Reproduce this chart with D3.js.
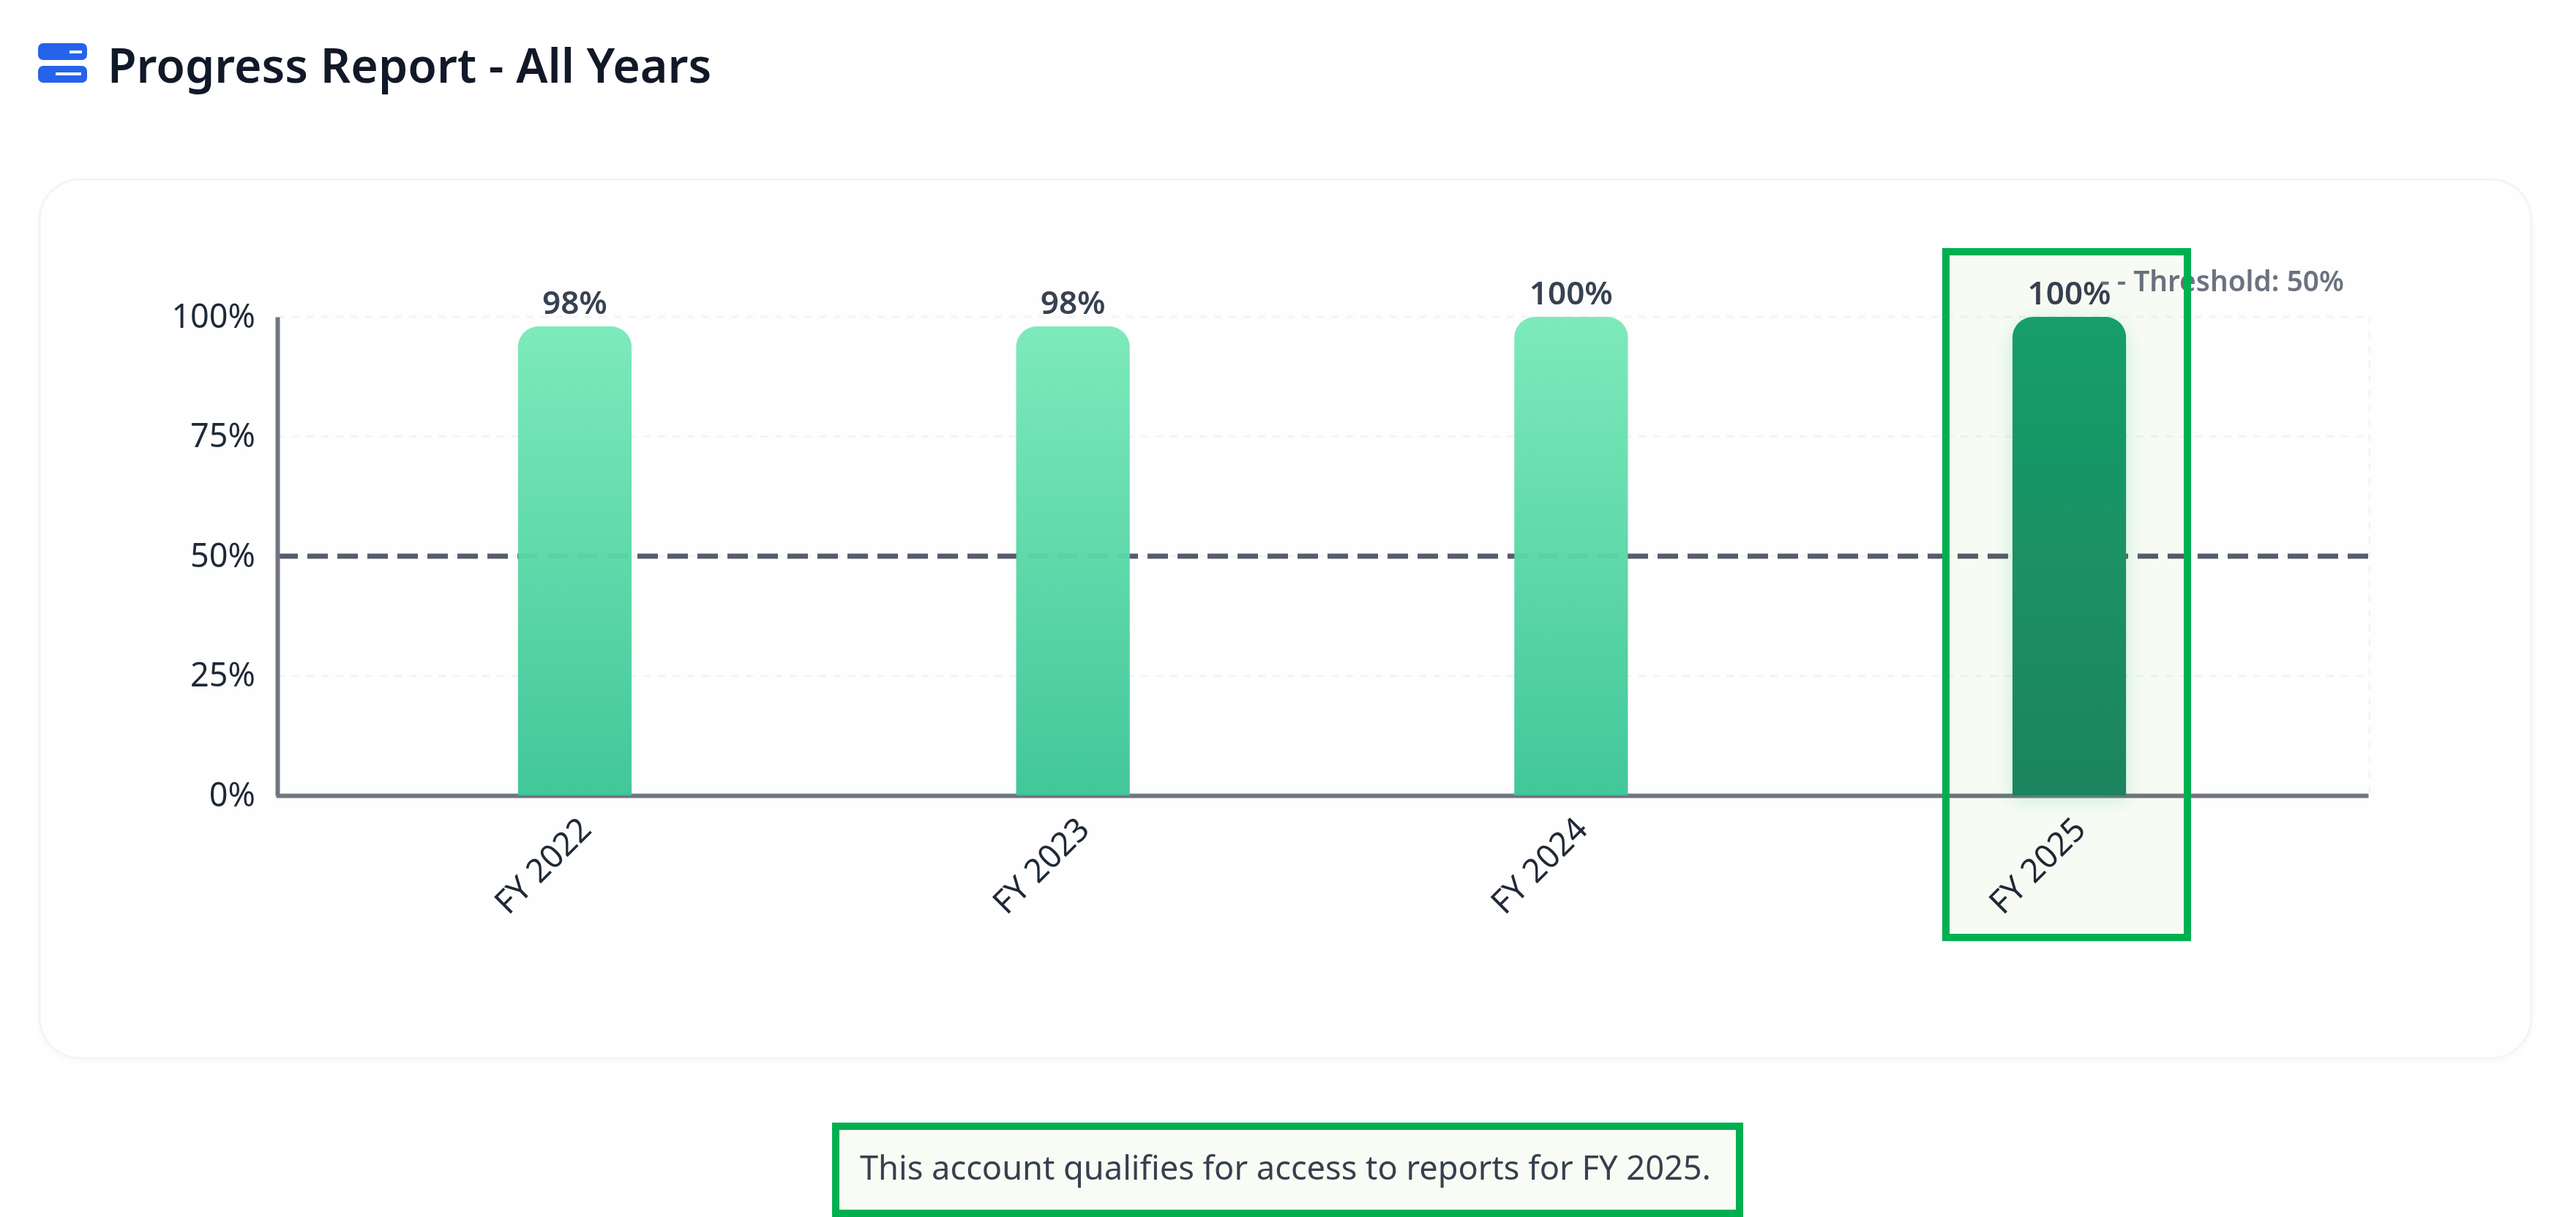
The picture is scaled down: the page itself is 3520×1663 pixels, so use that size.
<!DOCTYPE html>
<html>
<head>
<meta charset="utf-8">
<script src="https://cdn.jsdelivr.net/npm/d3@7"></script>
<style>
body { margin: 0; background: #fff; }
svg { display: block; font-family: "Noto Sans", sans-serif; }
</style>
</head>
<body>
<div id="chart"></div>
<script>
const categories = ['FY 2022', 'FY 2023', 'FY 2024', 'FY 2025']
const progress = [98, 98, 100, 100]
const yTicks = [0, 25, 50, 75, 100]
const threshold = 50
const currentYear = 'FY 2025'
const titleText = 'Progress Report - All Years'
const noteText = 'This account qualifies for access to reports for FY 2025.'

const plot = {left: 379, right: 3238, top: 433, bottom: 1087}

const svg = d3.select('#chart').append('svg').attr('width', 3520).attr('height', 1663)
const defs = svg.append('defs')

function addGradient(id, top, bottom) {
    const g = defs.append('linearGradient').attr('id', id).attr('x1', 0).attr('y1', 0).attr('x2', 0).attr('y2', 1)
    g.append('stop').attr('offset', '0%').attr('stop-color', top)
    g.append('stop').attr('offset', '100%').attr('stop-color', bottom)
}
addGradient('barLight', '#78e9b8', '#3ac596')
addGradient('barDark', '#16a06e', '#1f8662')

const glow = defs.append('filter').attr('id', 'glow').attr('x', '-50%').attr('y', '-10%').attr('width', '200%').attr('height', '120%')
glow.append('feDropShadow').attr('dx', 0).attr('dy', 6).attr('stdDeviation', 14).attr('flood-color', '#10b981').attr('flood-opacity', 0.2)

const cardShadow = defs.append('filter').attr('id', 'cardShadow').attr('x', '-2%').attr('y', '-2%').attr('width', '104%').attr('height', '104%')
cardShadow.append('feDropShadow').attr('dx', 0).attr('dy', 3).attr('stdDeviation', 4).attr('flood-color', '#000').attr('flood-opacity', 0.03)

// heading
const icon = svg.append('g').attr('class', 'icon')
icon.append('rect').attr('x', 52).attr('y', 59).attr('width', 67).attr('height', 23).attr('rx', 7).attr('fill', '#2563eb')
icon.append('rect').attr('x', 52).attr('y', 90).attr('width', 67).attr('height', 23).attr('rx', 7).attr('fill', '#2563eb')
icon.append('rect').attr('x', 95).attr('y', 69).attr('width', 17).attr('height', 4).attr('fill', '#fff')
icon.append('rect').attr('x', 76).attr('y', 99).attr('width', 35).attr('height', 4).attr('fill', '#fff')
svg.append('text').attr('x', 147).attr('y', 113).attr('font-size', 64.4).attr('font-weight', 600).attr('fill', '#111827').text(titleText)

// card
svg.append('rect').attr('x', 54).attr('y', 245).attr('width', 3405).attr('height', 1201).attr('rx', 56)
    .attr('fill', '#fefefe').attr('stroke', '#f3f4f6').attr('stroke-width', 3).attr('filter', 'url(#cardShadow)')

// band range sits 2px left of the axis span, that is where the bars are in the reference
const x = d3.scaleBand().domain(categories).range([plot.left - 2, plot.right - 2]).paddingInner(0.772).paddingOuter(0.486)
const y = d3.scaleLinear().domain([0, 100]).range([plot.bottom, plot.top])

// grid
const grid = svg.append('g').attr('class', 'grid')
grid.selectAll('line.h').data(yTicks.filter(d => d > 0)).enter().append('line').attr('class', 'h')
    .attr('x1', plot.left).attr('x2', plot.right).attr('y1', d => y(d)).attr('y2', d => y(d))
grid.append('line').attr('x1', plot.right).attr('x2', plot.right).attr('y1', plot.top).attr('y2', plot.bottom)
grid.selectAll('line').attr('stroke', '#f3f4f6').attr('stroke-width', 3).attr('stroke-dasharray', '10 10')

// threshold line sits under the bars
svg.append('line').attr('x1', plot.left).attr('x2', plot.right).attr('y1', y(threshold)).attr('y2', y(threshold))
    .attr('stroke', '#565c69').attr('stroke-width', 7).attr('stroke-dasharray', '28 13')

function barPath(d) {
    const x0 = x(d.cat), w = x.bandwidth(), top = y(d.value), r = 28
    return `M${x0},${plot.bottom}V${top + r}A${r},${r} 0 0 1 ${x0 + r},${top}H${x0 + w - r}A${r},${r} 0 0 1 ${x0 + w},${top + r}V${plot.bottom}Z`
}
const rows = categories.map((c, i) => ({cat: c, value: progress[i]}))

// axes
const yAxis = d3.axisLeft(y).tickValues(yTicks).tickFormat(d => d + '%').tickSize(0).tickPadding(30)
const gy = svg.append('g').attr('transform', `translate(${plot.left},0)`).call(yAxis)
gy.select('.domain').attr('stroke', '#71757f').attr('stroke-width', 6)
gy.selectAll('text').attr('font-size', 45).attr('font-family', '"Noto Sans", sans-serif').attr('fill', '#1f2937')

const xAxis = d3.axisBottom(x).tickSize(0).tickPadding(0)
const gx = svg.append('g').attr('transform', `translate(0,${plot.bottom})`).call(xAxis)
gx.select('.domain').attr('stroke', '#71757f').attr('stroke-width', 6)
gx.selectAll('text').attr('font-size', 45).attr('font-family', '"Noto Sans", sans-serif').attr('fill', '#1f2937')
    .attr('text-anchor', 'end').attr('dy', 0).attr('transform', 'translate(25,49) rotate(-45)')

// bars
svg.selectAll('path.bar').data(rows).enter().append('path').attr('class', 'bar')
    .attr('d', barPath)
    .attr('fill', d => d.cat === currentYear ? 'url(#barDark)' : 'url(#barLight)')
    .attr('opacity', d => d.cat === currentYear ? 1 : 0.96)
    .attr('filter', d => d.cat === currentYear ? 'url(#glow)' : null)

svg.selectAll('text.val').data(rows).enter().append('text').attr('class', 'val')
    .attr('x', d => x(d.cat) + x.bandwidth() / 2).attr('y', d => y(d.value) - 17)
    .attr('text-anchor', 'middle').attr('font-size', 44).attr('font-weight', 600).attr('fill', '#374151')
    .text(d => d.value + '%')

svg.append('text').attr('x', 3203).attr('y', 398).attr('text-anchor', 'end').attr('font-size', 38.8).attr('font-weight', 600)
    .attr('fill', '#6b7280').text('- - Threshold: ' + threshold + '%')

// note under the card
svg.append('text').attr('x', 1175).attr('y', 1612).attr('font-size', 45.2).attr('fill', '#374151').text(noteText)

// green call-out boxes on top of everything
const boxes = svg.append('g').attr('class', 'callouts')
boxes.append('rect').attr('x', 2659).attr('y', 344).attr('width', 330).attr('height', 937)
boxes.append('rect').attr('x', 1142).attr('y', 1539).attr('width', 1235).attr('height', 119)
boxes.selectAll('rect').attr('fill', '#f9fcf5').style('mix-blend-mode', 'multiply').attr('stroke', 'none')
boxes.append('rect').attr('x', 2659).attr('y', 344).attr('width', 330).attr('height', 937).attr('fill', 'none').attr('stroke', '#00b050').attr('stroke-width', 10)
boxes.append('rect').attr('x', 1142).attr('y', 1539).attr('width', 1235).attr('height', 119).attr('fill', 'none').attr('stroke', '#00b050').attr('stroke-width', 10)
</script>
</body>
</html>
